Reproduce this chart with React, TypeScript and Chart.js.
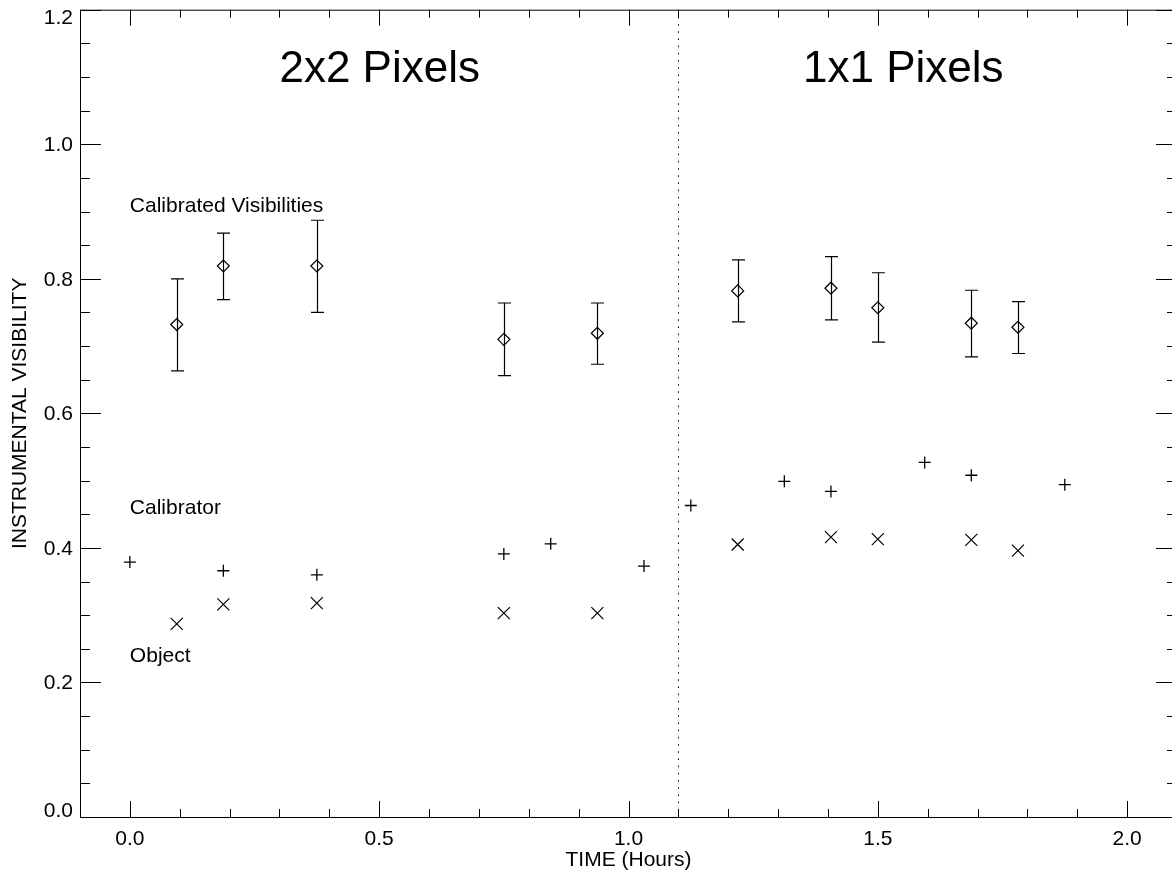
import React, { useEffect, useRef } from 'react';
import { Chart, registerables } from 'chart.js';

Chart.register(...registerables);

// Calibrated visibilities with their error bars
const visTime = [0.094, 0.1875, 0.375, 0.75, 0.9375, 1.219, 1.406, 1.5, 1.6875, 1.781];
const visValue = [0.732, 0.819, 0.819, 0.71, 0.719, 0.782, 0.786, 0.757, 0.734, 0.728];
const visHigh = [0.8, 0.868, 0.887, 0.764, 0.764, 0.828, 0.833, 0.809, 0.783, 0.766];
const visLow = [0.663, 0.769, 0.75, 0.656, 0.673, 0.736, 0.739, 0.706, 0.684, 0.689];

// Calibrator star visibilities
const calTime = [0.0, 0.1875, 0.375, 0.75, 0.844, 1.031, 1.125, 1.3125, 1.406, 1.594, 1.6875, 1.875];
const calValue = [0.379, 0.366, 0.36, 0.391, 0.406, 0.373, 0.463, 0.499, 0.484, 0.527, 0.508, 0.494];

// Object visibilities
const objTime = [0.094, 0.1875, 0.375, 0.75, 0.9375, 1.219, 1.406, 1.5, 1.6875, 1.781];
const objValue = [0.287, 0.316, 0.318, 0.303, 0.303, 0.405, 0.416, 0.413, 0.412, 0.396];

// Axes
const xRange = [-0.1, 2.1];
const yRange = [0.0, 1.2];
const xTickValues = [0.0, 0.5, 1.0, 1.5, 2.0];
const xTickLabels = ['0.0', '0.5', '1.0', '1.5', '2.0'];
const yTickValues = [0.0, 0.2, 0.4, 0.6, 0.8, 1.0, 1.2];
const yTickLabels = ['0.0', '0.2', '0.4', '0.6', '0.8', '1.0', '1.2'];
const xMinorStep = 0.1;
const yMinorStep = 0.05;
const xTitle = 'TIME (Hours)';
const yTitle = 'INSTRUMENTAL VISIBILITY';

// Annotations
const panelTitles = ['2x2 Pixels', '1x1 Pixels'];
const panelTitleX = [0.3, 1.35];
const panelTitleY = 1.092;
const seriesLabels = ['Calibrated Visibilities', 'Calibrator', 'Object'];
const seriesLabelX = [0.0, 0.0, 0.0];
const seriesLabelY = [0.9, 0.45, 0.23];
const dividerX = 1.1;

const FONT = '"Liberation Sans", Arial, Helvetica, sans-serif';
const INK = '#000';

const framePlugin = {
  id: 'idlFrame',
  beforeDatasetsDraw(chart: any) {
    const { ctx, chartArea, scales } = chart;
    const xs = scales.x;
    const ys = scales.y;
    ctx.save();
    // dotted divider between the two pixel modes
    const dx = Math.round(xs.getPixelForValue(dividerX)) + 0.5;
    ctx.strokeStyle = INK;
    ctx.lineWidth = 1;
    ctx.setLineDash([1.5, 5.7]);
    ctx.beginPath();
    ctx.moveTo(dx, chartArea.top);
    ctx.lineTo(dx, chartArea.bottom);
    ctx.stroke();
    ctx.setLineDash([]);

    // error bars
    ctx.lineWidth = 1.2;
    const cap = 6.5;
    visTime.forEach((t, i) => {
      const px = Math.round(xs.getPixelForValue(t)) + 0.5;
      const pHi = ys.getPixelForValue(visHigh[i]);
      const pLo = ys.getPixelForValue(visLow[i]);
      ctx.beginPath();
      ctx.moveTo(px, pHi);
      ctx.lineTo(px, pLo);
      ctx.moveTo(px - cap, pHi);
      ctx.lineTo(px + cap, pHi);
      ctx.moveTo(px - cap, pLo);
      ctx.lineTo(px + cap, pLo);
      ctx.stroke();
    });
    ctx.restore();
  },
  afterDraw(chart: any) {
    const { ctx, chartArea, scales } = chart;
    const xs = scales.x;
    const ys = scales.y;
    const { left, right, top, bottom } = chartArea;
    ctx.save();
    ctx.strokeStyle = INK;
    ctx.fillStyle = INK;
    ctx.lineWidth = 1;

    // frame
    ctx.strokeRect(left + 0.5, top + 0.5, right - left, bottom - top);

    const line = (x1: number, y1: number, x2: number, y2: number) => {
      ctx.beginPath();
      ctx.moveTo(x1, y1);
      ctx.lineTo(x2, y2);
      ctx.stroke();
    };

    // x ticks (inward, bottom and top)
    const nx = Math.round((xRange[1] - xRange[0]) / xMinorStep);
    for (let i = 0; i <= nx; i++) {
      const v = xRange[0] + i * xMinorStep;
      const px = Math.round(xs.getPixelForValue(v)) + 0.5;
      line(px, bottom, px, bottom - 8);
      line(px, top, px, top + 8);
    }
    xTickValues.forEach((v) => {
      const px = Math.round(xs.getPixelForValue(v)) + 0.5;
      line(px, bottom, px, bottom - 16);
      line(px, top, px, top + 16);
    });

    // y ticks (inward, left and right)
    const ny = Math.round((yRange[1] - yRange[0]) / yMinorStep);
    for (let i = 0; i <= ny; i++) {
      const v = yRange[0] + i * yMinorStep;
      const py = Math.round(ys.getPixelForValue(v)) + 0.5;
      line(left, py, left + 10, py);
      line(right, py, right - 10, py);
    }
    yTickValues.forEach((v) => {
      const py = Math.round(ys.getPixelForValue(v)) + 0.5;
      line(left, py, left + 21, py);
      line(right, py, right - 21, py);
    });

    // tick labels
    ctx.font = `21px ${FONT}`;
    ctx.textBaseline = 'alphabetic';
    ctx.textAlign = 'center';
    xTickValues.forEach((v, i) => {
      ctx.fillText(xTickLabels[i], xs.getPixelForValue(v), bottom + 28);
    });
    ctx.textAlign = 'right';
    const digitH = 14;
    yTickValues.forEach((v, i) => {
      const py = ys.getPixelForValue(v);
      const base = Math.min(bottom, Math.max(top + digitH, py + digitH / 2));
      ctx.fillText(yTickLabels[i], left - 7, base);
    });

    // axis titles
    ctx.textAlign = 'center';
    ctx.fillText(xTitle, (left + right) / 2, 866);
    ctx.save();
    ctx.translate(26, (top + bottom) / 2);
    ctx.rotate(-Math.PI / 2);
    ctx.fillText(yTitle, 0, 0);
    ctx.restore();

    // series labels
    ctx.textAlign = 'left';
    seriesLabels.forEach((s, i) => {
      ctx.fillText(s, xs.getPixelForValue(seriesLabelX[i]), ys.getPixelForValue(seriesLabelY[i]));
    });

    // panel titles
    ctx.font = `44px ${FONT}`;
    panelTitles.forEach((s, i) => {
      ctx.fillText(s, xs.getPixelForValue(panelTitleX[i]), ys.getPixelForValue(panelTitleY));
    });
    ctx.restore();
  },
};

export default function App() {
  const canvasRef = useRef<HTMLCanvasElement | null>(null);

  useEffect(() => {
    const canvas = canvasRef.current;
    if (!canvas) return;
    const toPoints = (xs: number[], ys: number[]) => xs.map((x, i) => ({ x, y: ys[i] }));
    const chart = new Chart(canvas, {
      type: 'scatter',
      data: {
        datasets: [
          {
            label: 'Calibrated Visibilities',
            data: toPoints(visTime, visValue),
            pointStyle: 'rectRot',
            pointRadius: 6,
            borderColor: INK,
            backgroundColor: 'rgba(0,0,0,0)',
            borderWidth: 1.2,
          },
          {
            label: 'Calibrator',
            data: toPoints(calTime, calValue),
            pointStyle: 'cross',
            pointRadius: 6,
            borderColor: INK,
            backgroundColor: INK,
            borderWidth: 1.3,
          },
          {
            label: 'Object',
            data: toPoints(objTime, objValue),
            pointStyle: 'crossRot',
            pointRadius: 8.5,
            borderColor: INK,
            backgroundColor: INK,
            borderWidth: 1.2,
          },
        ],
      },
      options: {
        responsive: false,
        animation: false,
        devicePixelRatio: 1,
        layout: { padding: { left: 80, right: 13, top: 8, bottom: 56 } },
        scales: {
          x: { type: 'linear', display: false, min: xRange[0], max: xRange[1] },
          y: { type: 'linear', display: false, min: yRange[0], max: yRange[1] },
        },
        plugins: {
          legend: { display: false },
          tooltip: { enabled: false },
        },
      },
      plugins: [framePlugin],
    });
    return () => chart.destroy();
  }, []);

  return (
    <div
      style={{
        position: 'fixed',
        left: 0,
        top: 0,
        width: '1172px',
        height: '873px',
        overflow: 'hidden',
        background: '#fff',
      }}
    >
      <canvas ref={canvasRef} width={1190} height={873} style={{ display: 'block' }} />
    </div>
  );
}
